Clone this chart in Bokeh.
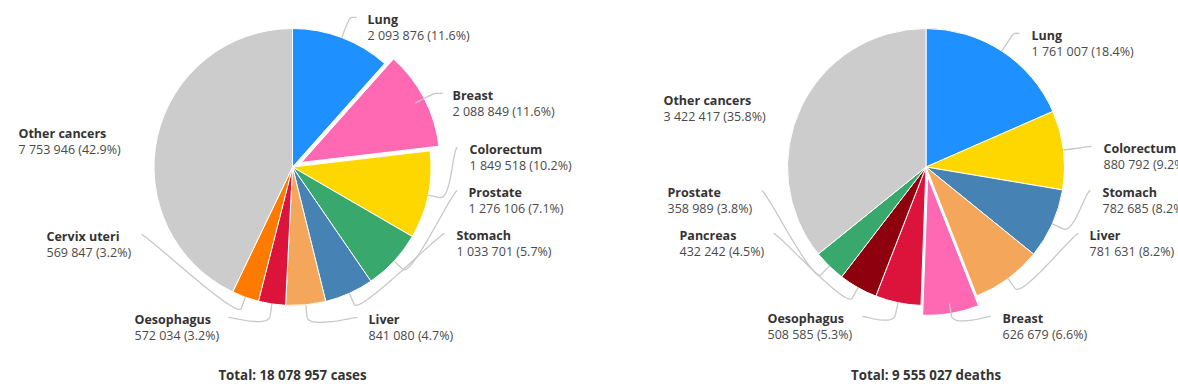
import numpy as np
from bokeh.plotting import figure
from bokeh.models import Range1d
from bokeh.core.properties import value
from bokeh.embed import file_html
from bokeh.resources import INLINE

# ---------------- data ----------------
cases_sites = ["Lung", "Breast", "Colorectum", "Prostate", "Stomach", "Liver",
               "Oesophagus", "Cervix uteri", "Other cancers"]
cases_values = [2093876, 2088849, 1849518, 1276106, 1033701, 841080,
                572034, 569847, 7753946]
cases_unit = "cases"

deaths_sites = ["Lung", "Colorectum", "Stomach", "Liver", "Breast", "Oesophagus",
                "Pancreas", "Prostate", "Other cancers"]
deaths_values = [1761007, 880792, 782685, 781631, 626679, 508585,
                 432242, 358989, 3422417]
deaths_unit = "deaths"

sliced_sites = ["Breast"]

# ---------------- styles / layout ----------------
colors = {
    "Lung": "#1e90ff", "Breast": "#ff69b4", "Colorectum": "#ffd700",
    "Prostate": "#38a86c", "Stomach": "#4682b4", "Liver": "#f4a65a",
    "Oesophagus": "#dc143c", "Cervix uteri": "#ff7b00", "Pancreas": "#8f000e",
    "Other cancers": "#cccccc",
}
W, H = 1178, 388
R = 138.5
SLICE_OFFSET = 10
BREAK_OFFSET = 12
FONT = "Open Sans"
FS = "12.5px"

# label layout in page pixels: (text_x, name_y, anchor_x or None)
cases_layout = {
    "Lung": (367, 19, 356), "Breast": (452, 95, 442), "Colorectum": (469, 149, 457),
    "Prostate": (468, 192, 457), "Stomach": (456, 235, 444), "Liver": (368, 319, 357),
    "Oesophagus": (134, 319, 228), "Cervix uteri": (46, 236, 141),
    "Other cancers": (18, 133, None),
}
deaths_layout = {
    "Lung": (1031, 35, 1019), "Colorectum": (1103, 148, 1091), "Stomach": (1102, 192, 1090),
    "Liver": (1089, 235, 1078), "Breast": (1002, 318, 990), "Oesophagus": (767, 318, 862),
    "Pancreas": (679, 235, 773), "Prostate": (667, 192, 761),
    "Other cancers": (663, 100, None),
}


def X(px):
    return px


def Y(py):
    return H - py


def fmt(v):
    return f"{v:,}".replace(",", " ")


p = figure(width=W, height=H, output_backend="svg", toolbar_location=None,
           x_range=Range1d(0, W), y_range=Range1d(0, H), min_border=0)
p.axis.visible = False
p.xgrid.visible = False
p.ygrid.visible = False
p.outline_line_color = None
p.background_fill_color = "white"
p.border_fill_color = "white"


def draw_pie(sites, vals, center_px, layout, unit):
    cx, cy = X(center_px[0]), Y(center_px[1])
    vals = np.array(vals, dtype=float)
    total = vals.sum()
    fr = vals / total
    ends = np.cumsum(fr) * 2 * np.pi
    starts = ends - fr * 2 * np.pi
    mids = (starts + ends) / 2

    for i, s in enumerate(sites):
        ox = oy = 0.0
        if s in sliced_sites:
            ox = SLICE_OFFSET * np.sin(mids[i])
            oy = SLICE_OFFSET * np.cos(mids[i])
        p.wedge(x=cx + ox, y=cy + oy, radius=R,
                start_angle=np.pi / 2 - starts[i], end_angle=np.pi / 2 - ends[i],
                direction="clock", fill_color=colors[s], line_color="white", line_width=1)

    xs, ys = [], []
    for i, s in enumerate(sites):
        tx, ny, ax = layout[s]
        if ax is None:
            continue
        sm, cm = np.sin(mids[i]), np.cos(mids[i])
        touch = np.array([cx + R * sm, cy + R * cm])
        brk = np.array([cx + (R + BREAK_OFFSET) * sm, cy + (R + BREAK_OFFSET) * cm])
        anc = np.array([X(ax), Y(ny - 2)])
        right = sm > 0
        c1 = anc + np.array([-5.0 if right else 5.0, 0.0])
        c2 = 2 * brk - touch
        t = np.linspace(0, 1, 40)[:, None]
        b = ((1 - t) ** 3) * anc + 3 * ((1 - t) ** 2) * t * c1 + 3 * (1 - t) * t ** 2 * c2 + t ** 3 * brk
        pts = np.vstack([b, touch])
        xs.append(list(pts[:, 0]))
        ys.append(list(pts[:, 1]))
    p.multi_line(xs=xs, ys=ys, line_color="#c8c8c8", line_width=1.3)

    nx, nyy, names, vx, vy, vtexts = [], [], [], [], [], []
    for i, s in enumerate(sites):
        tx, ny, ax = layout[s]
        nx.append(X(tx)); nyy.append(Y(ny)); names.append(s)
        vx.append(X(tx)); vy.append(Y(ny + 16))
        vtexts.append(f"{fmt(int(vals[i]))} ({fr[i] * 100:.1f}%)")
    p.text(x=nx, y=nyy, text=names, text_font=value(FONT), text_font_size=FS,
           text_font_style="bold", text_color="#333333", text_baseline="middle",
           text_align="left")
    p.text(x=vx, y=vy, text=vtexts, text_font=value(FONT), text_font_size=FS,
           text_color="#4a4a4a", text_baseline="middle", text_align="left")

    p.text(x=[cx], y=[Y(374)], text=[f"Total: {fmt(int(total))} {unit}"],
           text_font=value(FONT), text_font_size="13.3px", text_font_style="bold",
           text_color="#333333", text_baseline="middle", text_align="center")


draw_pie(cases_sites, cases_values, (292, 166.5), cases_layout, cases_unit)
draw_pie(deaths_sites, deaths_values, (925.5, 166.5), deaths_layout, deaths_unit)

open("out.html", "w").write(file_html(p, INLINE))
